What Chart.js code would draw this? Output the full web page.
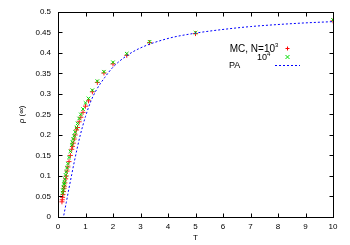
<!DOCTYPE html>
<html>
<head>
<meta charset="utf-8">
<script src="https://cdn.jsdelivr.net/npm/chart.js@4/dist/chart.umd.min.js"></script>
<style>
  html, body { margin: 0; padding: 0; background: #fff; }
  #wrap { width: 350px; height: 245px; }
</style>
</head>
<body>
<div id="wrap"><canvas id="chartRho"></canvas></div>
<script>
// valeurs
const tempMC = [10, 5, 3.33, 2.5, 2, 1.67, 1.43, 1.25, 1.11, 1, 0.91, 0.83, 0.77, 0.71, 0.67, 0.625,
                0.59, 0.556, 0.526, 0.5, 0.45, 0.4, 0.36, 0.33, 0.3, 0.28, 0.25, 0.23, 0.22, 0.2,
                0.18, 0.167, 0.154, 0.143];
const rhoN1000 = [0.478, 0.447, 0.425, 0.394, 0.373, 0.351, 0.328, 0.305, 0.283, 0.27, 0.255, 0.243,
                  0.232, 0.218, 0.212, 0.2, 0.19, 0.18, 0.172, 0.165, 0.15, 0.135, 0.122, 0.112, 0.1,
                  0.093, 0.083, 0.075, 0.07, 0.062, 0.055, 0.048, 0.042, 0.037];
const rhoN10000 = [0.48, 0.449, 0.427, 0.398, 0.377, 0.354, 0.331, 0.309, 0.289, 0.278, 0.263, 0.25,
                   0.24, 0.228, 0.218, 0.207, 0.198, 0.19, 0.182, 0.175, 0.16, 0.145, 0.13, 0.12, 0.11,
                   0.102, 0.092, 0.084, 0.08, 0.072, 0.065, 0.058, null, null];
const tempPA = [0.21, 0.3, 0.4, 0.5, 0.6, 0.7, 0.8, 0.9, 1.0, 1.2, 1.4, 1.7, 2, 2.5, 3, 4, 5, 6, 7, 8, 9, 10];
const rhoPA = [0.004, 0.035, 0.07, 0.104, 0.137, 0.168, 0.197, 0.222, 0.245, 0.283, 0.31, 0.34, 0.365,
               0.393, 0.412, 0.435, 0.448, 0.457, 0.464, 0.469, 0.473, 0.476];

const police = "'Liberation Sans', Arial, sans-serif";

function toPoints(xs, ys) {
    const pts = [];
    xs.forEach((x, i) => {
        if (ys[i] !== null && ys[i] !== undefined) pts.push({ x: x, y: ys[i] });
    });
    return pts;
}

// cadre + graduations vers l'intérieur + légende (style gnuplot)
const cadrePlugin = {
    id: 'cadre',
    afterDatasetsDraw(chart) {
        const ctx = chart.ctx;
        const a = chart.chartArea;
        const sx = chart.scales.x, sy = chart.scales.y;
        const L = Math.round(a.left) + 0.5, R = Math.round(a.right) + 0.5;
        const T = Math.round(a.top) + 0.5, B = Math.round(a.bottom) + 0.5;
        ctx.save();
        ctx.strokeStyle = '#000';
        ctx.lineWidth = 1;
        ctx.setLineDash([]);
        ctx.beginPath();
        sx.ticks.forEach(t => {
            const px = Math.round(sx.getPixelForValue(t.value)) + 0.5;
            ctx.moveTo(px, B); ctx.lineTo(px, B - 4);
            ctx.moveTo(px, T); ctx.lineTo(px, T + 4);
        });
        sy.ticks.forEach(t => {
            const py = Math.round(sy.getPixelForValue(t.value)) + 0.5;
            ctx.moveTo(L, py); ctx.lineTo(L + 4, py);
            ctx.moveTo(R, py); ctx.lineTo(R - 4, py);
        });
        ctx.stroke();
        ctx.strokeRect(L, T, R - L, B - T);

        // légende
        ctx.fillStyle = '#000';
        ctx.textBaseline = 'middle';
        ctx.font = '10px ' + police;
        ctx.textAlign = 'right';
        ctx.fillText('MC, N=10', 275, 49);
        ctx.font = '9px ' + police;
        ctx.fillText('10', 267, 58);
        ctx.font = '6px ' + police;
        ctx.textAlign = 'left';
        ctx.fillText('3', 275, 45);
        ctx.fillText('4', 267, 54);
        ctx.font = '9px ' + police;
        ctx.fillText('PA', 229, 66);

        // symboles
        ctx.lineWidth = 1;
        ctx.strokeStyle = '#ff0000';
        ctx.beginPath();
        ctx.moveTo(285.5, 48.5); ctx.lineTo(289.5, 48.5);
        ctx.moveTo(287.5, 46.5); ctx.lineTo(287.5, 50.5);
        ctx.stroke();
        ctx.strokeStyle = '#00dd00';
        ctx.beginPath();
        ctx.moveTo(285.5, 55); ctx.lineTo(289.5, 59);
        ctx.moveTo(289.5, 55); ctx.lineTo(285.5, 59);
        ctx.stroke();
        ctx.strokeStyle = '#0000ff';
        ctx.setLineDash([2, 2]);
        ctx.beginPath();
        ctx.moveTo(275, 65.5); ctx.lineTo(300, 65.5);
        ctx.stroke();
        ctx.restore();
    }
};

function loadChartRho() {
    const canvas = document.getElementById('chartRho');

    const chart = new Chart(canvas, {
        type: 'scatter',
        data: {
            datasets: [
                {
                    label: 'PA',
                    type: 'line',
                    data: toPoints(tempPA, rhoPA),
                    borderColor: '#0000ff',
                    borderWidth: 1,
                    borderDash: [2, 2],
                    pointRadius: 0,
                    fill: false,
                    cubicInterpolationMode: 'monotone',
                    order: 0
                },
                {
                    label: '10^4',
                    data: toPoints(tempMC, rhoN10000),
                    pointStyle: 'crossRot',
                    pointRadius: 2.5,
                    borderColor: '#00dd00',
                    backgroundColor: '#00dd00',
                    pointBorderWidth: 1,
                    order: 1
                },
                {
                    label: 'MC, N=10^3',
                    data: toPoints(tempMC, rhoN1000),
                    pointStyle: 'cross',
                    pointRadius: 2.5,
                    borderColor: '#ff2020',
                    backgroundColor: '#ff2020',
                    pointBorderWidth: 1,
                    order: 2
                }
            ]
        },
        options: {
            responsive: true,
            maintainAspectRatio: false,
            animation: false,
            devicePixelRatio: 1,
            layout: { padding: { top: 11, right: 17, left: 0, bottom: 0 } },
            plugins: {
                legend: { display: false },
                tooltip: { enabled: false }
            },
            scales: {
                x: {
                    type: 'linear',
                    min: 0,
                    max: 10,
                    ticks: { stepSize: 1, padding: 5, color: '#000', font: { size: 8, family: police } },
                    grid: { display: false, drawTicks: false },
                    border: { display: false },
                    title: { display: true, text: 'T', color: '#000', padding: { top: 0, bottom: 2 },
                             font: { size: 8, family: police } },
                    afterFit(scale) { scale.height = 28; }
                },
                y: {
                    type: 'linear',
                    min: 0,
                    max: 0.5,
                    ticks: {
                        stepSize: 0.05,
                        padding: 7,
                        color: '#000',
                        font: { size: 8, family: police },
                        callback: function(value) {
                            return String(parseFloat(value.toFixed(2)));
                        }
                    },
                    grid: { display: false, drawTicks: false },
                    border: { display: false },
                    title: { display: true, text: 'ρ (∞)', color: '#000', padding: { top: 17, bottom: 0 },
                             font: { size: 8, family: police } },
                    afterFit(scale) { scale.width = 58; }
                }
            }
        },
        plugins: [cadrePlugin]
    });

    return chart;
}

loadChartRho();
</script>
</body>
</html>
